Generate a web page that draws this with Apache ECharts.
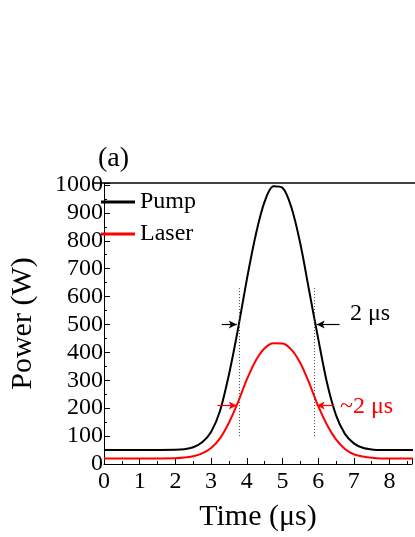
<!DOCTYPE html><html><head><meta charset="utf-8">
<script src="https://cdn.jsdelivr.net/npm/echarts@6/dist/echarts.min.js"></script>
<style>html,body{margin:0;background:#fff}#c{width:415px;height:537px}</style></head><body><div id="c"></div>
<script>
const time = [0,1,2,2.25,2.5,2.75,3,3.25,3.5,3.75,4,4.25,4.5,4.75,5,5.25,5.5,5.75,6,6.25,6.5,6.75,7,7.25,7.5,7.75,8,8.7];
const pump = [50,50,51,53,60,78,115,190,320,480,660,820,940,995,990,920,790,620,450,290,175,108,74,58,52,50,50,50];
const laser = [20,20,21,23,28,38,57,92,148,220,302,370,415,433,432,410,362,290,208,140,88,54,35,27,22,20,20,20];
const F = 'Liberation Serif';
const arrowLines = [
  {y:500, x1:3.3, x2:3.72, c:'#000'}, {y:500, x1:6.6, x2:5.96, c:'#000'},
  {y:210, x1:3.18, x2:3.72, c:'#f00'}, {y:210, x1:6.45, x2:5.96, c:'#f00'}
];
const ch = echarts.init(document.getElementById('c'));
const mk = (a)=>[{coord:[a.x1,a.y],lineStyle:{color:a.c,width:1.2,type:'solid'}},{coord:[a.x2,a.y]}];
ch.setOption({
  animation:false,
  textStyle:{fontFamily:F},
  title:{text:'(a)',left:93,top:140,textStyle:{fontFamily:F,fontSize:28,fontWeight:'normal',color:'#000'}},
  legend:{left:96,top:185,orient:'vertical',itemWidth:34,itemHeight:3,itemGap:8,icon:'rect',
    textStyle:{fontFamily:F,fontSize:24,color:'#000'},data:['Pump','Laser']},
  grid:{left:94,right:0,top:183,bottom:68},
  xAxis:{type:'value',min:0,max:8.63,interval:1,name:'Time (μs)',nameLocation:'middle',nameGap:38,
    nameTextStyle:{fontFamily:F,fontSize:30,color:'#000'},
    axisLine:{lineStyle:{color:'#000',width:1}},axisTick:{inside:true,length:6,lineStyle:{color:'#000'}},
    minorTick:{show:true,splitNumber:2,length:3,lineStyle:{color:'#000'}},splitLine:{show:false},
    axisLabel:{fontFamily:F,fontSize:24,color:'#000',margin:6,formatter:v=>Number.isInteger(v)?v:''}},
  yAxis:{type:'value',min:0,max:1007,interval:100,name:'Power (W)',nameLocation:'middle',nameGap:66,
    nameTextStyle:{fontFamily:F,fontSize:30,color:'#000'},
    axisLine:{show:true,lineStyle:{color:'#000',width:1}},axisTick:{inside:true,length:6,lineStyle:{color:'#000'}},
    minorTick:{show:true,splitNumber:2,length:3,lineStyle:{color:'#000'}},splitLine:{show:false},
    axisLabel:{fontFamily:F,fontSize:24,color:'#000',margin:1,formatter:v=>v%100===0&&v<=1000?v:''}},
  series:[
    {name:'Pump',type:'line',data:time.map((t,i)=>[t,pump[i]]),smooth:0.3,showSymbol:false,
     lineStyle:{color:'#000',width:2},itemStyle:{color:'#000'},
     markLine:{silent:true,symbol:['none','arrow'],symbolSize:[6,8],label:{show:false},
       data:[
        [{coord:[3.78,100],symbol:'none',lineStyle:{color:'#444',type:[1,2],width:1}},{coord:[3.78,630],symbol:'none'}],
        [{coord:[5.9,100],symbol:'none',lineStyle:{color:'#444',type:[1,2],width:1}},{coord:[5.9,630],symbol:'none'}],
        ...arrowLines.map(mk)]}},
    {name:'Laser',type:'line',data:time.map((t,i)=>[t,laser[i]]),smooth:0.3,showSymbol:false,
     lineStyle:{color:'#f00',width:2},itemStyle:{color:'#f00'}}
  ],
  graphic:[
    {type:'rect',shape:{x:94,y:183,width:321,height:0},style:{stroke:'#000',lineWidth:1}},
    {type:'text',left:350,top:302,style:{text:'2 μs',font:'24px "Liberation Serif"',fill:'#000'}},
    {type:'text',left:340,top:395,style:{text:'~2 μs',font:'24px "Liberation Serif"',fill:'#f00'}}
  ]
});
</script></body></html>
